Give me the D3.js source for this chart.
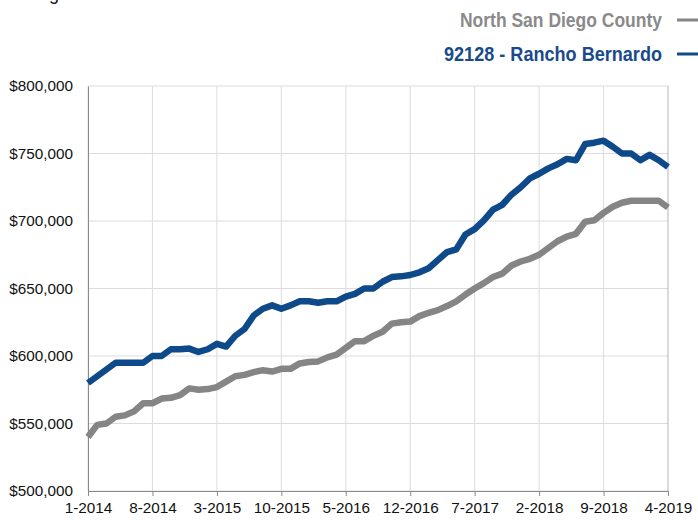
<!DOCTYPE html>
<html>
<head>
<meta charset="utf-8">
<script src="https://cdn.jsdelivr.net/npm/d3@7"></script>
<style>
  body { margin: 0; background: #fff; }
  svg { display: block; }
  .tick text { font-family: "Liberation Sans", Arial, sans-serif; font-size: 15.3px; fill: #111; }
  .legend { font-family: "Liberation Sans", Arial, sans-serif; font-weight: bold; font-size: 20px; }
</style>
</head>
<body>
<div id="chart"></div>
<script>
// months from 1-2014 to 4-2019 (index 0..63)
var months = d3.range(64).map(function(i) {
  return ((i % 12) + 1) + "-" + (2014 + Math.floor(i / 12));
});

// North San Diego County median price
var northCounty = [
  540000, 549000, 550000, 555000, 556000, 559000, 565000, 565000, 568500, 569000,
  571000, 576000, 575000, 575500, 577000, 581000, 585000, 586000, 588000, 589500,
  588500, 590500, 590500, 594500, 595500, 596000, 599000, 601000, 606000, 611000,
  611000, 615000, 618000, 624000, 625000, 625500, 629500, 632000, 634000, 637000,
  640500, 645500, 650000, 654000, 658500, 661000, 667000, 670000, 672000, 675000,
  680000, 685000, 688500, 690500, 699500, 700500, 706000, 710500, 713500, 715000,
  715000, 715000, 715000, 710000
];

// 92128 - Rancho Bernardo median price
var ranchoBernardo = [
  580000, 585000, 590000, 595000, 595000, 595000, 595000, 600000, 600000, 605000,
  605000, 605500, 603000, 605000, 609000, 607000, 615000, 620000, 630000, 635000,
  637500, 635000, 637500, 640500, 640500, 639500, 640500, 640500, 644000, 646000,
  650000, 650000, 655000, 658500, 659000, 660000, 662000, 665000, 671000, 677000,
  679000, 690000, 694000, 700500, 708500, 712000, 719500, 725000, 731500, 735000,
  739000, 742000, 746000, 745000, 757000, 758000, 759500, 755000, 750000, 750000,
  745000, 749000, 745000, 740000
];

var xTicks = [0, 7, 14, 21, 28, 35, 42, 49, 56, 63];
var yTicks = [500000, 550000, 600000, 650000, 700000, 750000, 800000];

var seriesNames = ["North San Diego County", "92128 - Rancho Bernardo"];
var seriesColors = ["#858585", "#0e4a89"];
var legendColors = ["#8a8a8a", "#1a4a8a"];

var svgWidth = 698;
var svgHeight = 520;
var margin = { top: 86, right: 30, bottom: 29, left: 88 };
var chartWidth = svgWidth - margin.left - margin.right;
var chartHeight = svgHeight - margin.top - margin.bottom;

var svg = d3.select("#chart").append("svg")
  .attr("width", svgWidth)
  .attr("height", svgHeight);

// clipped title remnant at the very top
svg.append("text")
  .attr("x", 49)
  .attr("y", 0)
  .attr("font-family", "Liberation Sans, sans-serif")
  .attr("font-size", 18)
  .attr("fill", "#111")
  .text("g");

var chartGroup = svg.append("g")
  .attr("transform", `translate(${margin.left}, ${margin.top})`);

var xScale = d3.scaleLinear().domain([0, 63]).range([0, chartWidth]);
var yScale = d3.scaleLinear().domain([500000, 800000]).range([chartHeight, 0]);

// gridlines
chartGroup.append("g")
  .selectAll("line.hgrid")
  .data(yTicks)
  .enter().append("line")
  .attr("x1", 0).attr("x2", chartWidth)
  .attr("y1", d => yScale(d)).attr("y2", d => yScale(d))
  .attr("stroke", "#dcdcdc").attr("stroke-width", 1);

chartGroup.append("g")
  .selectAll("line.vgrid")
  .data(xTicks)
  .enter().append("line")
  .attr("x1", d => xScale(d)).attr("x2", d => xScale(d))
  .attr("y1", 0).attr("y2", chartHeight)
  .attr("stroke", d => d === 63 ? "#b5b5b5" : "#dcdcdc").attr("stroke-width", 1);

// axes
var xAxis = d3.axisBottom(xScale)
  .tickValues(xTicks)
  .tickFormat(d => months[d])
  .tickSize(5)
  .tickPadding(6);

var yAxis = d3.axisLeft(yScale)
  .tickValues(yTicks)
  .tickFormat(d => "$" + d3.format(",")(d))
  .tickSize(0)
  .tickPadding(15);

var xg = chartGroup.append("g")
  .attr("transform", `translate(0, ${chartHeight})`)
  .call(xAxis);
xg.select(".domain").attr("stroke", "#8a8a8a");
xg.selectAll(".tick line").attr("stroke", "#8a8a8a");

var yg = chartGroup.append("g").call(yAxis);
yg.select(".domain").attr("stroke", "#8a8a8a");

// lines
var line = d3.line()
  .x((d, i) => xScale(i))
  .y(d => yScale(d));

[northCounty, ranchoBernardo].forEach(function(series, k) {
  chartGroup.append("path")
    .datum(series)
    .attr("fill", "none")
    .attr("stroke", seriesColors[k])
    .attr("stroke-width", 6.5)
    .attr("stroke-linejoin", "round")
    .attr("d", line);
});

// legend (condensed look via textLength)
var legendY = [27, 61];
var legendLen = [202, 218];
seriesNames.forEach(function(name, k) {
  svg.append("text")
    .attr("class", "legend")
    .attr("x", 662 - legendLen[k])
    .attr("y", legendY[k])
    .attr("textLength", legendLen[k])
    .attr("lengthAdjust", "spacingAndGlyphs")
    .attr("fill", legendColors[k])
    .text(name);
  svg.append("line")
    .attr("x1", 677).attr("x2", 698)
    .attr("y1", legendY[k] - 7).attr("y2", legendY[k] - 7)
    .attr("stroke", seriesColors[k])
    .attr("stroke-width", 3);
});
</script>
</body>
</html>
